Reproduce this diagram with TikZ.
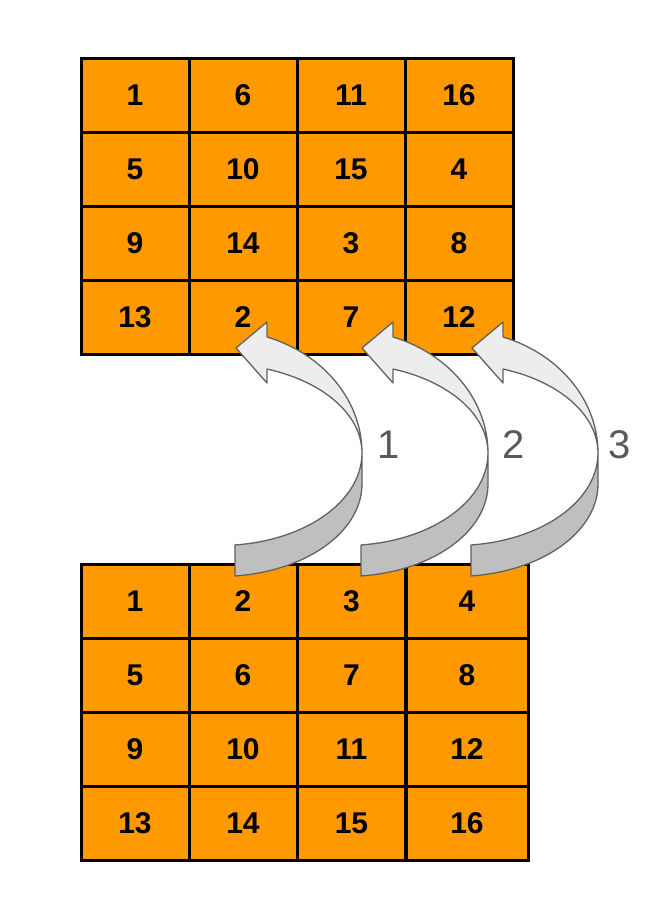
\documentclass[tikz,border=0pt]{standalone}
\usepackage{fontspec}
\setmainfont{Liberation Sans}
\usetikzlibrary{positioning}

\definecolor{cellorange}{HTML}{FF9900}
\definecolor{facelight}{HTML}{EDEDED}
\definecolor{facedark}{HTML}{BFBFBF}
\definecolor{rimgray}{HTML}{626262}
\definecolor{labgray}{HTML}{595959}

\begin{document}
\begin{tikzpicture}[x=1pt,y=-1pt,
  cell/.style={draw=black,line width=3pt,fill=cellorange,minimum width=108pt,
    minimum height=74pt,inner sep=0pt,font=\fontsize{30}{30}\selectfont\bfseries},
  widecell/.style={cell,minimum width=122pt},
  face/.style={draw=rimgray,line width=1.3pt,line join=round},
  steplabel/.style={text=labgray,font=\fontsize{40}{40}\selectfont}]
  \useasboundingbox (0,0) rectangle (668,919);
  % original order
  \foreach \r/\a/\b/\c/\d in {1/1/6/11/16,2/5/10/15/4,3/9/14/3/8,4/13/2/7/12}{
    \node[cell] (t\r-1) at (135,{21+74*\r}) {\a};
    \node[cell] (t\r-2) at (243,{21+74*\r}) {\b};
    \node[cell] (t\r-3) at (351,{21+74*\r}) {\c};
    \node[cell] (t\r-4) at (459,{21+74*\r}) {\d};
  }
  % shifted order
  \foreach \r/\a/\b/\c/\d in {1/1/2/3/4,2/5/6/7/8,3/9/10/11/12,4/13/14/15/16}{
    \node[cell] (b\r-1) at (135,{527+74*\r}) {\a};
    \node[cell] (b\r-2) at (243,{527+74*\r}) {\b};
    \node[cell] (b\r-3) at (351.5,{527+74*\r}) {\c};
    \node[widecell] (b\r-4) at (467,{527+74*\r}) {\d};
  }
  % curved arrows
  \foreach \dx in {0,126,236}{
    \begin{scope}[shift={(\dx,0)}]
      \draw[face,fill=facelight] (267,322) -- (236,348) -- (267,383) -- (267,369)
        -- plot[domain=-70.67:0,samples=30,variable=\t] ({220+142*cos(\t)},{453+89*sin(\t)})
        -- plot[domain=0:70.67,samples=30,variable=\t] ({220+142*cos(\t)},{453-123*sin(\t)})
        -- cycle;
      \draw[face,fill=facedark] (362,484) -- (362,453)
        -- plot[domain=0:83.94,samples=30,variable=\t] ({220+142*cos(\t)},{453+92.5*sin(\t)})
        -- (235,576)
        -- plot[domain=0:83.94,samples=30,variable=\t] ({220+142*cos(83.94-\t)},{484+92.5*sin(83.94-\t)})
        -- cycle;
    \end{scope}
  }
  \node[steplabel] (lab1) at (389,445) {1};
  \node[steplabel] (lab2) at (514,445) {2};
  \node[steplabel] (lab3) at (620,445) {3};
\end{tikzpicture}
\end{document}
